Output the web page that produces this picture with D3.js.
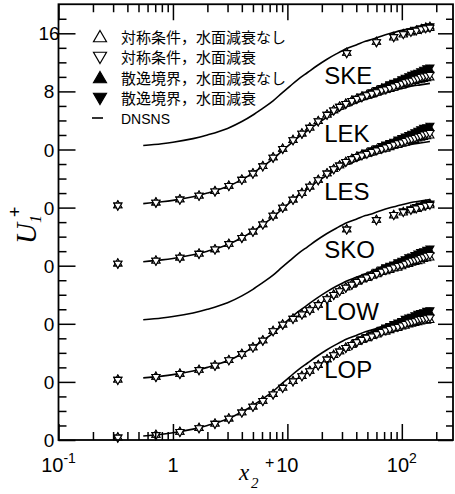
<!DOCTYPE html>
<html><head><meta charset="utf-8">
<script src="https://cdn.jsdelivr.net/npm/d3@7"></script>
<style>body{margin:0;background:#fff}svg{display:block}</style>
</head><body>
<svg id="c" width="455" height="494"></svg>
<script>
// ---------------- data ----------------
const panelNames   = ["SKE","LEK","LES","SKO","LOW","LOP"];
const panelOffsets = [40, 32, 24, 16, 8, 0];

// DNS profile (same in every panel)
const dnsX = [0.55,0.8,1.0,1.5,2.0,3.0,4.0,5.0,6.0,7.5,9.0,10.5,12.5,15,18,22,27,33,40,48,56,66,80,100,120,145,176];
const dnsU = [0.55,0.8,1.0,1.5,2.0,2.9,3.85,4.75,5.6,6.7,7.8,8.7,9.7,10.6,11.5,12.4,13.2,13.9,14.4,14.9,15.2,15.6,16.0,16.4,16.7,16.9,17.1];

// grid of the low-Re models (first 20 = common part, last 20 = tail)
const gridX = [0.33,0.71,1.15,1.69,2.33,3.08,4.0,5.0,6.1,7.5,9.1,11.2,13.4,15.7,18.6,22.2,25.4,28.6,32.4,36.6,
               40.5,44.8,49.5,54.7,60.5,66.8,72.5,78.6,85.2,92.4,100,107,115,122,130,138,146,155,165,176];

const lekHead = [0.3,0.7,1.12,1.65,2.25,3.0,3.85,4.7,5.7,6.9,8.1,9.3,10.2,11.0,11.9,12.8,13.4,13.9,14.3,14.7];
const lekOpenUpTail     = [15.0,15.2,15.4,15.6,15.8,16.0,16.2,16.3,16.5,16.7,16.8,17.0,17.1,17.2,17.4,17.5,17.6,17.7,17.8,17.9];
const lekOpenDownTail   = [15.0,15.2,15.5,15.7,15.9,16.2,16.3,16.5,16.7,16.9,17.1,17.3,17.4,17.5,17.7,17.8,18.0,18.1,18.2,18.3];
const lekFilledUpTail   = [15.0,15.3,15.5,15.8,16.1,16.4,16.6,16.8,17.0,17.2,17.4,17.6,17.8,18.0,18.1,18.3,18.4,18.6,18.8,18.9];
const lekFilledDownTail = [15.0,15.3,15.6,15.9,16.2,16.5,16.7,17.0,17.2,17.4,17.7,17.9,18.1,18.3,18.5,18.6,18.8,19.0,19.2,19.3];

const lesHead = [0.3,0.7,1.12,1.65,2.25,3.0,3.85,4.7,5.7,6.9,8.0,9.1,10.0,10.9,11.8,12.7,13.3,13.8,14.3,14.7];
const lesOpenUpTail     = [15.0,15.2,15.4,15.6,15.8,16.0,16.1,16.3,16.5,16.6,16.8,16.9,17.1,17.2,17.3,17.5,17.6,17.7,17.8,17.9];
const lesOpenDownTail   = [15.0,15.2,15.4,15.7,15.9,16.1,16.3,16.5,16.7,16.9,17.0,17.2,17.4,17.5,17.6,17.8,17.9,18.1,18.2,18.3];
const lesFilledUpTail   = [15.0,15.3,15.5,15.8,16.0,16.3,16.5,16.7,16.9,17.1,17.3,17.5,17.7,17.9,18.1,18.2,18.4,18.6,18.7,18.9];
const lesFilledDownTail = [15.0,15.3,15.6,15.9,16.2,16.5,16.7,16.9,17.1,17.4,17.6,17.8,18.0,18.2,18.4,18.6,18.8,19.0,19.1,19.3];

const lowHead = [0.3,0.7,1.12,1.65,2.25,3.0,3.85,4.75,5.7,7.0,7.9,8.7,9.3,9.9,10.6,11.4,12.0,12.5,13.0,13.4];
const lowOpenUpTail     = [13.8,14.1,14.3,14.6,14.8,15.1,15.2,15.4,15.6,15.7,15.9,16.1,16.2,16.4,16.5,16.6,16.7,16.9,17.0,17.1];
const lowOpenDownTail   = [13.8,14.1,14.4,14.6,14.9,15.2,15.4,15.6,15.8,16.0,16.1,16.3,16.5,16.7,16.8,16.9,17.1,17.2,17.4,17.5];
const lowFilledUpTail   = [13.8,14.1,14.4,14.8,15.1,15.4,15.6,15.8,16.0,16.2,16.5,16.7,16.9,17.0,17.2,17.4,17.5,17.7,17.9,18.0];
const lowFilledDownTail = [13.8,14.2,14.5,14.8,15.2,15.5,15.8,16.0,16.2,16.5,16.7,16.9,17.2,17.3,17.5,17.7,17.9,18.0,18.2,18.4];

const lopHead = [0.35,0.7,1.12,1.65,2.25,2.95,3.8,4.6,5.4,6.3,7.2,8.1,8.8,9.5,10.3,11.1,11.7,12.2,12.7,13.1];
const lopOpenUpTail     = [13.5,13.8,14.0,14.3,14.5,14.8,14.9,15.1,15.3,15.4,15.6,15.7,15.9,16.0,16.1,16.2,16.3,16.4,16.4,16.5];
const lopOpenDownTail   = [13.5,13.8,14.1,14.3,14.6,14.9,15.1,15.3,15.5,15.6,15.8,16.0,16.2,16.3,16.4,16.6,16.7,16.7,16.8,16.9];
const lopFilledUpTail   = [13.5,13.8,14.1,14.5,14.8,15.1,15.3,15.5,15.7,16.0,16.2,16.4,16.6,16.7,16.8,17.0,17.1,17.3,17.4,17.5];
const lopFilledDownTail = [13.5,13.9,14.2,14.5,14.9,15.2,15.5,15.7,16.0,16.2,16.4,16.7,16.9,17.0,17.2,17.4,17.5,17.6,17.8,17.9];

// wall-function models (SKE, SKO)
const gridW = [33,60,85,103,120,134,148,162,176];
const skeOpenUp     = [13.3,14.8,15.4,15.8,16.1,16.3,16.5,16.6,16.7];
const skeOpenDown   = [13.3,14.8,15.5,15.9,16.2,16.4,16.6,16.7,16.8];
const skeFilledUp   = [13.3,14.8,15.5,15.9,16.2,16.4,16.6,16.8,16.9];
const skeFilledDown = [13.3,14.8,15.5,16.0,16.3,16.5,16.7,16.9,17.0];
const skoOpenUp     = [13.0,14.3,14.9,15.3,15.6,15.8,16.0,16.2,16.3];
const skoOpenDown   = [13.0,14.3,15.0,15.4,15.7,15.9,16.1,16.3,16.4];
const skoFilledUp   = [13.0,14.3,15.0,15.4,15.7,16.0,16.2,16.4,16.5];
const skoFilledDown = [13.0,14.3,15.0,15.5,15.8,16.1,16.3,16.5,16.6];

const legendLabels = ["対称条件，水面減衰なし","対称条件，水面減衰","散逸境界，水面減衰なし","散逸境界，水面減衰","DNSNS"];

const xMajorTicks = [0.1, 1, 10, 100];
const xMinorTicks = [0.2,0.3,0.4,0.5,0.6,0.7,0.8,0.9,2,3,4,5,6,7,8,9,20,30,40,50,60,70,80,90,200];
const xTickBase  = ["10","1","10","10"];
const xTickSup   = ["-1","","","2"];
const yMajorTicks = [0,8,16,24,32,40,48,56];
const yMinorTicks = [2,4,6,10,12,14,18,20,22,26,28,30,34,36,38,42,44,46,50,52,54,58];
const yTickLabels = ["0","0","0","0","0","0","8","16"];

// ---------------- assemble ----------------
const panelSeries = {
  SKE: {x: gridW, openUp: skeOpenUp, openDown: skeOpenDown, filledUp: skeFilledUp, filledDown: skeFilledDown},
  LEK: {x: gridX, openUp: lekHead.concat(lekOpenUpTail), openDown: lekHead.concat(lekOpenDownTail),
        filledUp: lekHead.concat(lekFilledUpTail), filledDown: lekHead.concat(lekFilledDownTail)},
  LES: {x: gridX, openUp: lesHead.concat(lesOpenUpTail), openDown: lesHead.concat(lesOpenDownTail),
        filledUp: lesHead.concat(lesFilledUpTail), filledDown: lesHead.concat(lesFilledDownTail)},
  SKO: {x: gridW, openUp: skoOpenUp, openDown: skoOpenDown, filledUp: skoFilledUp, filledDown: skoFilledDown},
  LOW: {x: gridX, openUp: lowHead.concat(lowOpenUpTail), openDown: lowHead.concat(lowOpenDownTail),
        filledUp: lowHead.concat(lowFilledUpTail), filledDown: lowHead.concat(lowFilledDownTail)},
  LOP: {x: gridX, openUp: lopHead.concat(lopOpenUpTail), openDown: lopHead.concat(lopOpenDownTail),
        filledUp: lopHead.concat(lopFilledUpTail), filledDown: lopHead.concat(lopFilledDownTail)}
};
// drawing order: filled first, open on top
const seriesStyles = [
  {key:"filledUp",   dir: 1, fill:"#000"},
  {key:"filledDown", dir:-1, fill:"#000"},
  {key:"openUp",     dir: 1, fill:"#fff"},
  {key:"openDown",   dir:-1, fill:"#fff"}
];
const legendStyles = [
  {dir: 1, fill:"#fff"}, {dir:-1, fill:"#fff"}, {dir: 1, fill:"#000"}, {dir:-1, fill:"#000"}
];

// ---------------- chart ----------------
const svg = d3.select("#c");
const L = 58.5, R = 453, T = 4.25, B = 440;
const x = d3.scaleLog().domain([0.1, 280]).range([L, R]);
const y = d3.scaleLinear().domain([0, 60]).range([B, T]);

function tri(dir, w){
  const h = w * Math.sqrt(3) / 2;
  const a = -2*h/3*dir, b = h/3*dir;
  return `M0,${a}L${w/2},${b}L${-w/2},${b}Z`;
}

const plot = svg.append("g");
panelNames.forEach((name, i) => {
  const off = panelOffsets[i];
  const line = d3.line().x(d => x(d[0])).y(d => y(d[1] + off)).curve(d3.curveMonotoneX);
  plot.append("path").datum(dnsX.map((v, j) => [v, dnsU[j]]))
    .attr("d", line).attr("fill", "none").attr("stroke", "#000").attr("stroke-width", 1.6);
  const s = panelSeries[name];
  seriesStyles.forEach(st => {
    plot.append("g").selectAll("path").data(s.x.map((v, j) => [v, s[st.key][j]]))
      .join("path")
      .attr("transform", d => `translate(${x(d[0])},${y(d[1] + off)})`)
      .attr("d", tri(st.dir, 8))
      .attr("fill", st.fill).attr("stroke", "#000").attr("stroke-width", 1.1);
  });
  plot.append("text").attr("x", x(21)).attr("y", y(off + (i >= 4 ? 8.5 : 9.05)))
    .attr("font-family", "Liberation Sans, Arial, sans-serif").attr("font-size", 24)
    .text(name);
});

// axes (ticks inward)
function ticks(axis, tr, vals, size){
  svg.append("g").attr("transform", tr)
    .call(axis.tickValues(vals).tickSizeInner(size).tickSizeOuter(0).tickFormat(""))
    .call(g => g.select(".domain").remove())
    .call(g => g.selectAll("line").attr("stroke", "#000").attr("stroke-width", 1.5));
}
ticks(d3.axisBottom(x), `translate(0,${B})`, xMajorTicks, -16);
ticks(d3.axisBottom(x), `translate(0,${B})`, xMinorTicks, -8);
ticks(d3.axisTop(x), `translate(0,${T})`, xMajorTicks, -16);
ticks(d3.axisTop(x), `translate(0,${T})`, xMinorTicks, -8);
ticks(d3.axisLeft(y), `translate(${L},0)`, yMajorTicks, -17);
ticks(d3.axisLeft(y), `translate(${L},0)`, yMinorTicks, -8);
ticks(d3.axisRight(y), `translate(${R},0)`, yMajorTicks, -15);
ticks(d3.axisRight(y), `translate(${R},0)`, yMinorTicks, -7);

svg.append("rect").attr("x", L).attr("y", T).attr("width", R - L).attr("height", B - T)
  .attr("fill", "none").attr("stroke", "#000").attr("stroke-width", 1.8);

// tick labels
const fontSans = "Liberation Sans, Arial, sans-serif";
yMajorTicks.forEach((v, i) => {
  svg.append("text").attr("x", 49).attr("y", y(v) + 7).attr("text-anchor", "middle")
    .attr("font-family", fontSans).attr("font-size", 19).text(yTickLabels[i]);
});
xMajorTicks.forEach((v, i) => {
  const t = svg.append("text").attr("x", x(v)).attr("y", 472).attr("text-anchor", "middle")
    .attr("font-family", fontSans).attr("font-size", 20);
  t.append("tspan").text(xTickBase[i]);
  if (xTickSup[i]) t.append("tspan").attr("font-size", 14).attr("dy", -9).text(xTickSup[i]);
});

// axis titles
const fontSerif = "Liberation Serif, Times New Roman, serif";
svg.append("text").attr("x", 239).attr("y", 480).attr("font-family", fontSerif)
  .attr("font-style", "italic").attr("font-size", 23).text("x");
svg.append("text").attr("x", 251).attr("y", 488).attr("font-family", fontSerif)
  .attr("font-style", "italic").attr("font-size", 15).text("2");
svg.append("text").attr("x", 265).attr("y", 468).attr("font-family", fontSans)
  .attr("font-size", 16).text("+");

const yt = svg.append("text").attr("transform", "translate(36,244) rotate(-90)")
  .attr("font-family", fontSerif).attr("font-style", "italic").attr("font-size", 29);
yt.append("tspan").text("U");
yt.append("tspan").attr("font-size", 16).attr("dy", 5).text("1");
yt.append("tspan").attr("font-family", fontSans).attr("font-style", "normal")
  .attr("font-size", 18).attr("dx", -2).attr("dy", -20).text("+");

// legend
const lg = svg.append("g");
const rowY = [37, 57, 78, 98, 118];
legendLabels.forEach((lab, i) => {
  if (i < 4) {
    lg.append("path").attr("transform", `translate(100,${rowY[i] + (legendStyles[i].dir > 0 ? 1 : -1)})`)
      .attr("d", tri(legendStyles[i].dir, 13)).attr("fill", legendStyles[i].fill)
      .attr("stroke", "#000").attr("stroke-width", 1.2);
  } else {
    lg.append("line").attr("x1", 92).attr("x2", 103).attr("y1", rowY[i]).attr("y2", rowY[i])
      .attr("stroke", "#000").attr("stroke-width", 1.6);
  }
  lg.append("text").attr("x", 121).attr("y", rowY[i] + 5.5)
    .attr("font-family", i < 4 ? "Noto Sans CJK JP" : fontSans)
    .attr("font-size", i < 4 ? 15 : 14).text(lab);
});
</script>
</body></html>
